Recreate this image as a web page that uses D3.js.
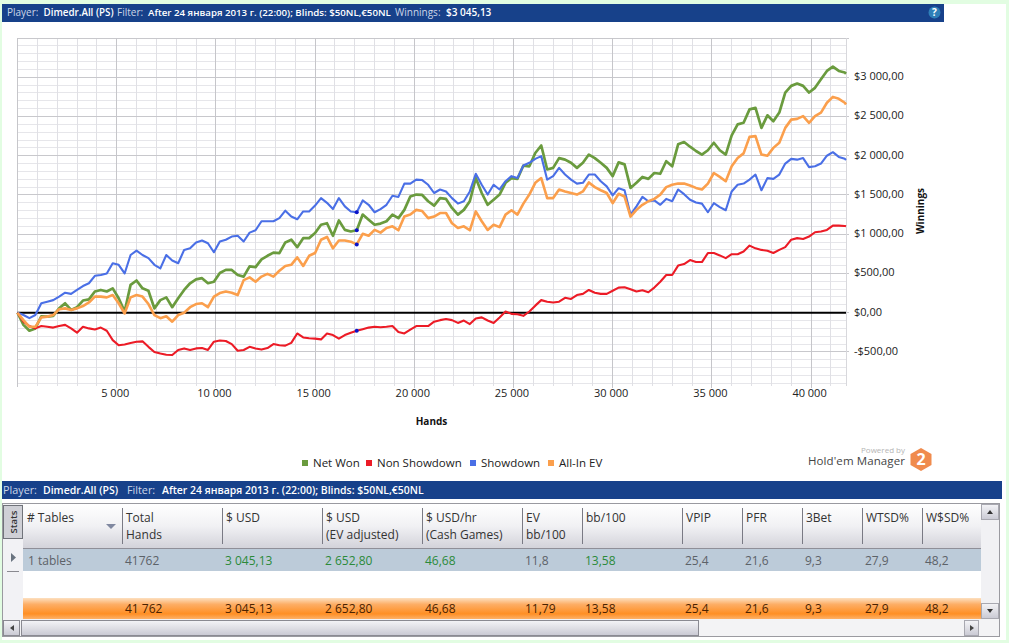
<!DOCTYPE html>
<html lang="ru">
<head>
<meta charset="UTF-8">
<title>Hold'em Manager winnings</title>
<script src="https://d3js.org/d3.v7.min.js"></script>
<style>
    html, body { margin: 0; padding: 0; background: #fff; overflow: hidden; }
    svg { display: block; }
    text { font-family: "Open Sans", "Noto Sans", sans-serif; }
</style>
</head>
<body>
<svg id="chart" width="1009" height="643"></svg>
<script>
    // hands every 300, last one is the real total
    const hands = d3.range(0, 41762, 300).concat(41762);

    const netWon = [
        0,-155,-230,-200,-45,-50,-40,55,120,35,
        70,155,170,270,290,270,310,185,15,355,
        410,310,280,55,160,195,70,185,290,375,
        425,440,375,395,505,545,545,480,460,590,
        580,680,725,765,760,895,930,835,950,950,
        1015,1120,1140,980,1175,1055,1035,1050,1250,1185,
        1120,1135,1165,1250,1205,1310,1480,1505,1500,1420,
        1365,1460,1450,1335,1250,1310,1420,1715,1525,1375,
        1440,1505,1655,1715,1705,1875,1865,2035,2130,1825,
        1845,1970,1950,1910,1845,1910,2015,1970,1910,1845,
        1740,1915,1890,1590,1655,1730,1705,1780,1770,1930,
        1865,2145,2175,2115,2060,2015,2070,2165,2070,2015,
        2260,2400,2420,2590,2610,2355,2515,2440,2550,2805,
        2890,2920,2890,2805,2865,2975,3080,3135,3080,3060,
        3045
    ];
    const nonShowdown = [
        0,-115,-170,-200,-170,-180,-190,-170,-155,-200,
        -255,-180,-200,-215,-190,-230,-350,-415,-405,-385,
        -370,-365,-435,-500,-520,-535,-540,-475,-455,-475,
        -455,-450,-475,-370,-355,-360,-400,-485,-475,-435,
        -455,-470,-450,-400,-415,-420,-385,-265,-315,-325,
        -330,-340,-265,-285,-330,-285,-255,-230,-210,-190,
        -180,-185,-180,-170,-245,-265,-215,-170,-170,-170,
        -115,-95,-80,-95,-130,-100,-145,-75,-60,-100,
        -130,-60,15,-15,-20,-40,15,90,160,140,
        130,140,190,175,225,240,290,255,240,240,
        280,320,325,300,270,285,260,320,395,480,
        480,600,620,670,645,645,760,760,730,695,
        745,745,780,855,820,800,790,760,800,835,
        930,950,940,970,1025,1035,1055,1110,1110,1105,
        1100
    ];
    const showdown = [
        0,-30,-70,-30,120,140,160,205,255,240,
        290,340,375,470,480,500,630,610,500,735,
        790,735,695,610,565,735,665,630,800,820,
        895,920,885,770,907,930,970,980,907,1020,
        1050,1165,1165,1165,1205,1300,1225,1190,1290,1290,
        1365,1460,1400,1320,1460,1355,1290,1280,1430,1375,
        1280,1320,1375,1490,1475,1645,1645,1695,1690,1630,
        1525,1570,1545,1460,1390,1420,1545,1770,1630,1505,
        1630,1570,1675,1740,1715,1875,1910,1960,1995,1695,
        1740,1845,1760,1695,1645,1655,1760,1760,1675,1610,
        1495,1585,1560,1250,1355,1475,1420,1430,1375,1450,
        1420,1570,1510,1440,1405,1390,1280,1395,1345,1305,
        1545,1630,1645,1695,1760,1560,1715,1705,1760,1900,
        1960,1950,1970,1855,1865,1900,2000,2045,1985,1960,
        1945
    ];
    const allInEv = [
        0,-95,-180,-180,-60,-50,-30,45,55,35,
        55,85,130,205,205,195,225,120,-10,195,
        225,205,110,-30,-70,-45,-115,-30,0,70,
        110,120,70,205,250,270,255,225,415,450,
        395,460,495,460,535,595,610,705,595,725,
        760,930,965,820,920,920,905,870,1005,980,
        1055,1020,1080,1100,1050,1225,1250,1310,1295,1205,
        1225,1270,1270,1140,1080,1100,1050,1290,1165,1055,
        1120,1090,1250,1305,1250,1390,1505,1655,1715,1460,
        1460,1570,1545,1525,1505,1545,1660,1600,1560,1525,
        1395,1515,1480,1225,1310,1375,1420,1450,1505,1600,
        1630,1645,1645,1620,1590,1570,1645,1780,1730,1675,
        1865,1970,2030,2240,2250,2015,2000,2100,2165,2355,
        2460,2470,2505,2420,2505,2550,2675,2750,2725,2675,
        2653
    ];
    const seriesNames = ['Net Won', 'Non Showdown', 'Showdown', 'All-In EV'];
    const seriesValues = [netWon, nonShowdown, showdown, allInEv];
    const seriesColors = ['#6a9b3e', '#ec1b26', '#4a6fe6', '#fb9f4c'];
    const seriesWidths = [2.7, 2.1, 2.1, 2.6];
    const markerIndex = 57;

    const tableHead = [['# Tables'], ['Total', 'Hands'], ['$ USD'], ['$ USD', '(EV adjusted)'], ['$ USD/hr', '(Cash Games)'],
        ['EV', 'bb/100'], ['bb/100'], ['VPIP'], ['PFR'], ['3Bet'], ['WTSD%'], ['W$SD%']];
    const rowValues = ['1 tables', '41762', '3 045,13', '2 652,80', '46,68', '11,8', '13,58', '25,4', '21,6', '9,3', '27,9', '48,2'];
    const totalValues = ['', '41 762', '3 045,13', '2 652,80', '46,68', '11,79', '13,58', '25,4', '21,6', '9,3', '27,9', '48,2'];
    const greenColumns = [2, 3, 4, 6];
    const columnLeft = [23, 122, 222, 322, 422, 522, 582, 682, 742, 802, 862, 922];

    const svg = d3.select('#chart');
    const defs = svg.append('defs');

    function gradient(id, stops) {
        const g = defs.append('linearGradient').attr('id', id).attr('x1', 0).attr('x2', 0).attr('y1', 0).attr('y2', 1);
        stops.forEach(s => g.append('stop').attr('offset', s[0]).attr('stop-color', s[1]));
    }
    gradient('headGrad', [[0, '#ffffff'], [0.5, '#f1f1f4'], [1, '#d3d3da']]);
    gradient('totalGrad', [[0, '#fde0c0'], [0.3, '#fdae66'], [0.75, '#ff8f24'], [1, '#fdb168']]);
    gradient('scrollGrad', [[0, '#f4f4f7'], [1, '#c9c9d3']]);

    // page
    svg.append('rect').attr('width', 1009).attr('height', 643).attr('fill', '#e2fde2');
    svg.append('rect').attr('x', 2).attr('y', 4).attr('width', 1004).attr('height', 636).attr('fill', '#fff');

    // top bar
    const barText = (px, py, t, bold, size) => svg.append('text')
        .attr('x', px).attr('y', py).attr('font-size', size).text(t)
        .attr('fill', bold ? '#fff' : '#ccd6e8').attr('font-weight', bold ? 600 : 400);
    svg.append('rect').attr('x', 2).attr('y', 4).attr('width', 942).attr('height', 18).attr('fill', '#17418a');
    barText(7, 16, 'Player:', false, 10);
    barText(43.5, 16, 'Dimedr.All (PS)', true, 9.8);
    barText(117, 16, 'Filter:', false, 10);
    barText(148, 16, 'After 24 января 2013 г. (22:00); Blinds: $50NL,€50NL', true, 9.7);
    barText(395, 16, 'Winnings:', false, 10);
    barText(446, 16, '$3 045,13', true, 10);
    svg.append('circle').attr('cx', 934.5).attr('cy', 12.5).attr('r', 6).attr('fill', '#2f7fb8');
    svg.append('text').attr('x', 934.5).attr('y', 16).attr('text-anchor', 'middle').attr('font-size', 10)
        .attr('font-weight', 700).attr('fill', '#fff').text('?');

    // scales
    const x = d3.scaleLinear().domain([0, 41762]).range([17.5, 846]);
    const y = d3.scaleLinear().domain([-934, 3500]).range([386, 38]);
    const loc = d3.formatLocale({ decimal: ',', thousands: ' ', grouping: [3], currency: ['$', ''], minus: '-' });

    // grid
    const grid = svg.append('g').attr('shape-rendering', 'crispEdges');
    grid.selectAll('.minor-y').data(d3.range(-900, 3501, 100).filter(d => d % 500 !== 0)).enter().append('line')
        .attr('x1', 17).attr('x2', 846).attr('y1', d => y(d)).attr('y2', d => y(d)).attr('stroke', '#e6e6ea');
    grid.selectAll('.minor-x').data(d3.range(1000, 41763, 1000).filter(d => d % 5000 !== 0)).enter().append('line')
        .attr('x1', d => x(d)).attr('x2', d => x(d)).attr('y1', 38).attr('y2', 386).attr('stroke', '#e0e0e5');
    grid.selectAll('.major-y').data(d3.range(-500, 3501, 500)).enter().append('line')
        .attr('x1', 17).attr('x2', 849).attr('y1', d => y(d)).attr('y2', d => y(d)).attr('stroke', '#c8c8cc');
    grid.selectAll('.major-x').data(d3.range(5000, 41000, 5000)).enter().append('line')
        .attr('x1', d => x(d)).attr('x2', d => x(d)).attr('y1', 38).attr('y2', 388).attr('stroke', '#c6c6ca');
    grid.append('line').attr('x1', 17.5).attr('x2', 17.5).attr('y1', 38).attr('y2', 387).attr('stroke', '#c6c6ca');
    grid.append('line').attr('x1', 846).attr('x2', 846).attr('y1', 38).attr('y2', 386).attr('stroke', '#d8d8dc');

    // axes
    const xAxis = svg.append('g').attr('transform', 'translate(-2,386)')
        .call(d3.axisBottom(x).tickValues(d3.range(5000, 41000, 5000)).tickFormat(loc.format(',')).tickSize(0).tickPadding(3));
    const yAxis = svg.append('g').attr('transform', 'translate(854,0)')
        .call(d3.axisRight(y).tickValues(d3.range(-500, 3001, 500)).tickFormat(loc.format('$,.2f')).tickSize(0).tickPadding(0));
    [xAxis, yAxis].forEach(a => {
        a.attr('font-family', null);
        a.select('.domain').remove();
        a.selectAll('text').attr('font-size', 11).attr('fill', '#222');
    });
    yAxis.selectAll('text').attr('dy', '.22em');

    svg.append('text').attr('x', 431.5).attr('y', 425).attr('text-anchor', 'middle')
        .attr('font-size', 10).attr('font-weight', 700).attr('fill', '#111').text('Hands');
    svg.append('text').attr('transform', 'translate(924,211) rotate(-90)').attr('text-anchor', 'middle')
        .attr('font-size', 10).attr('font-weight', 700).attr('fill', '#111').text('Winnings');

    // zero line
    svg.append('line').attr('x1', x(0)).attr('x2', x(41762)).attr('y1', y(0)).attr('y2', y(0))
        .attr('stroke', '#000').attr('stroke-width', 2);

    // series
    const line = d3.line().x((d, i) => x(hands[i])).y(d => y(d));
    svg.selectAll('.series').data(seriesValues).enter().append('path')
        .attr('class', 'series').attr('d', line).attr('fill', 'none')
        .attr('stroke', (d, i) => seriesColors[i]).attr('stroke-width', (d, i) => seriesWidths[i]).attr('stroke-linejoin', 'round');
    svg.selectAll('.marker').data(seriesValues).enter().append('circle')
        .attr('class', 'marker').attr('cx', x(hands[markerIndex])).attr('cy', d => y(d[markerIndex]))
        .attr('r', 2).attr('fill', '#0a12c8');

    // legend
    const legendSquare = [302, 366, 470, 548];
    const legend = svg.selectAll('.legend').data(seriesNames).enter().append('g')
        .attr('class', 'legend').attr('transform', (d, i) => `translate(${legendSquare[i]},460)`);
    legend.append('rect').attr('width', 6).attr('height', 6).attr('fill', (d, i) => seriesColors[i]);
    legend.append('text').attr('x', 11).attr('y', 7).attr('font-size', 11.5).attr('fill', '#222').text(d => d);

    // logo
    svg.append('text').attr('x', 905).attr('y', 453).attr('text-anchor', 'end').attr('font-size', 8).attr('fill', '#b5b5b5').text('Powered by');
    svg.append('text').attr('x', 905).attr('y', 465).attr('text-anchor', 'end').attr('font-size', 11.5).attr('letter-spacing', 0.1).attr('fill', '#444').text("Hold'em Manager");
    svg.append('polygon').attr('points', '921,448 931.5,454 931.5,465 921,471 910.5,465 910.5,454').attr('fill', '#f08b4d');
    svg.append('text').attr('x', 921).attr('y', 465).attr('text-anchor', 'middle').attr('font-size', 16).attr('font-weight', 700).attr('fill', '#fff').text('2');

    // bottom panel
    svg.append('rect').attr('x', 2).attr('y', 481).attr('width', 1000).attr('height', 18).attr('fill', '#17418a');
    barText(3, 494, 'Player:', false, 10.8);
    barText(43, 494, 'Dimedr.All (PS)', true, 10.5);
    barText(127, 494, 'Filter:', false, 10.8);
    barText(162, 494, 'After 24 января 2013 г. (22:00); Blinds: $50NL,€50NL', true, 10.45);

    svg.append('rect').attr('x', 2.5).attr('y', 503.5).attr('width', 997).attr('height', 133).attr('fill', '#fff').attr('stroke', '#9a9aa0');
    svg.append('rect').attr('x', 3).attr('y', 504).attr('width', 20).attr('height', 115).attr('fill', '#f2f2f5');
    svg.append('rect').attr('x', 23).attr('y', 504).attr('width', 958).attr('height', 44).attr('fill', 'url(#headGrad)');
    svg.append('line').attr('x1', 23).attr('x2', 981).attr('y1', 548.5).attr('y2', 548.5).attr('stroke', '#8f8f98');
    svg.append('rect').attr('x', 3.5).attr('y', 505.5).attr('width', 19).attr('height', 33).attr('fill', '#cfd0d6').attr('stroke', '#70737a');
    svg.append('text').attr('transform', 'translate(17,522) rotate(-90)').attr('text-anchor', 'middle')
        .attr('font-size', 9.5).attr('font-weight', 600).attr('fill', '#333').text('Stats');

    // rows
    svg.append('rect').attr('x', 23).attr('y', 549).attr('width', 958).attr('height', 22).attr('fill', '#bccbd9');
    svg.append('rect').attr('x', 23).attr('y', 598).attr('width', 958).attr('height', 21).attr('fill', 'url(#totalGrad)');
    svg.append('path').attr('d', 'M11 553 L16 557.5 L11 562 Z').attr('fill', '#6a7480');
    svg.append('line').attr('x1', 7).attr('x2', 19).attr('y1', 571.5).attr('y2', 571.5).attr('stroke', '#8a8a90');
    svg.append('path').attr('d', 'M106 524 L116 524 L111 529 Z').attr('fill', '#8088a0');

    const cols = svg.selectAll('.col').data(tableHead).enter().append('g').attr('class', 'col')
        .attr('transform', (d, i) => `translate(${columnLeft[i]},0)`);
    cols.filter((d, i) => i > 0).append('line').attr('x1', 0.5).attr('x2', 0.5).attr('y1', 508).attr('y2', 544).attr('stroke', '#7a7a84');
    cols.each(function(d, i) {
        d.forEach((t, k) => d3.select(this).append('text').attr('x', 4).attr('y', 522 + k * 17)
            .attr('font-size', 12).attr('fill', '#333').text(t));
        d3.select(this).append('text').attr('x', i === 0 ? 5 : 3).attr('y', 565).attr('font-size', 12)
            .attr('fill', greenColumns.includes(i) ? '#2b8a3a' : '#5c6268').text(rowValues[i]);
        d3.select(this).append('text').attr('x', 3).attr('y', 613).attr('font-size', 12)
            .attr('fill', '#4a2200').text(totalValues[i]);
    });

    // scrollbars
    svg.append('rect').attr('x', 981).attr('y', 504).attr('width', 18).attr('height', 115).attr('fill', '#f1f1f4');
    svg.append('rect').attr('x', 981.5).attr('y', 504.5).attr('width', 17).attr('height', 15).attr('fill', 'url(#scrollGrad)').attr('stroke', '#a8a8b0');
    svg.append('rect').attr('x', 981.5).attr('y', 603.5).attr('width', 17).attr('height', 15).attr('fill', 'url(#scrollGrad)').attr('stroke', '#a8a8b0');
    svg.append('path').attr('d', 'M987 514 L993 514 L990 510 Z').attr('fill', '#333');
    svg.append('path').attr('d', 'M987 609 L993 609 L990 613 Z').attr('fill', '#333');
    svg.append('rect').attr('x', 3).attr('y', 619).attr('width', 996).attr('height', 17).attr('fill', '#f3f3f5');
    svg.append('rect').attr('x', 3.5).attr('y', 620.5).attr('width', 16).attr('height', 15).attr('fill', 'url(#scrollGrad)').attr('stroke', '#8a8a92');
    svg.append('rect').attr('x', 21.5).attr('y', 620.5).attr('width', 677).attr('height', 15).attr('fill', 'url(#scrollGrad)').attr('stroke', '#8a8a92');
    svg.append('rect').attr('x', 964.5).attr('y', 620.5).attr('width', 14).attr('height', 15).attr('fill', 'url(#scrollGrad)').attr('stroke', '#a8a8b0');
    svg.append('path').attr('d', 'M14 625 L14 631 L10 628 Z').attr('fill', '#444');
    svg.append('path').attr('d', 'M970 625 L970 631 L974 628 Z').attr('fill', '#444');
</script>
</body>
</html>
